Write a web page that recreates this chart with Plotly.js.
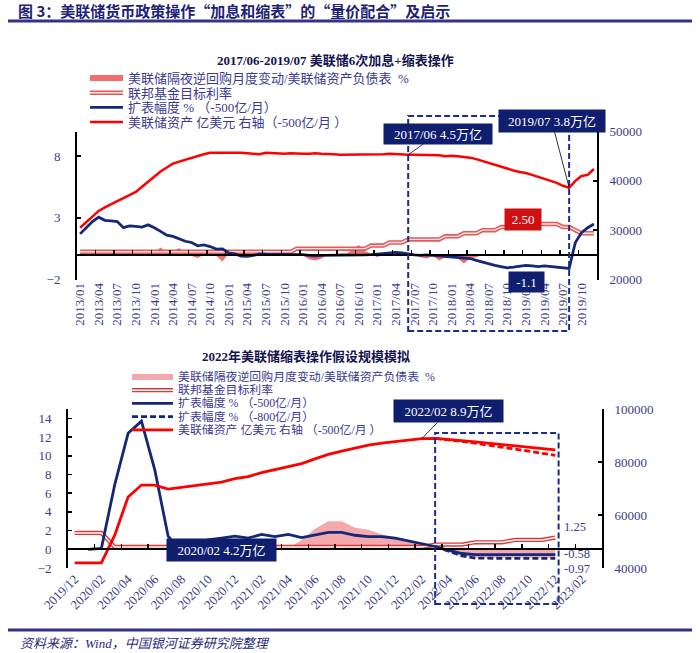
<!DOCTYPE html>
<html><head><meta charset="utf-8">
<script src="https://cdn.plot.ly/plotly-3.0.1.min.js"></script>
<style>html,body{margin:0;padding:0;background:#fff;}#chart{width:700px;height:653px;}</style>
</head><body><div id="chart"></div>
<script>
// ---------------- DATA ----------------
const topMonths = [
'2013/01','2013/02','2013/03','2013/04','2013/05','2013/06','2013/07','2013/08','2013/09','2013/10','2013/11','2013/12',
'2014/01','2014/02','2014/03','2014/04','2014/05','2014/06','2014/07','2014/08','2014/09','2014/10','2014/11','2014/12',
'2015/01','2015/02','2015/03','2015/04','2015/05','2015/06','2015/07','2015/08','2015/09','2015/10','2015/11','2015/12',
'2016/01','2016/02','2016/03','2016/04','2016/05','2016/06','2016/07','2016/08','2016/09','2016/10','2016/11','2016/12',
'2017/01','2017/02','2017/03','2017/04','2017/05','2017/06','2017/07','2017/08','2017/09','2017/10','2017/11','2017/12',
'2018/01','2018/02','2018/03','2018/04','2018/05','2018/06','2018/07','2018/08','2018/09','2018/10','2018/11','2018/12',
'2019/01','2019/02','2019/03','2019/04','2019/05','2019/06','2019/07','2019/08','2019/09','2019/10','2019/11','2019/12'];
const topTickLabels = ['2013/01','2013/04','2013/07','2013/10','2014/01','2014/04','2014/07','2014/10',
'2015/01','2015/04','2015/07','2015/10','2016/01','2016/04','2016/07','2016/10','2017/01','2017/04','2017/07','2017/10',
'2018/01','2018/04','2018/07','2018/10','2019/01','2019/04','2019/07','2019/10'];
// 美联储隔夜逆回购月度变动/美联储资产负债表 %
const topRRP = [
0,0,0,0,0,0,0,0,0,0.05,0,0,
0.2,0.6,0.2,0.3,0.55,0.1,-0.1,-0.25,0,0.05,-0.1,-0.55,
0.1,0,0,0.05,0,0,-0.1,0,0,0.05,0,0,
-0.05,-0.35,-0.45,-0.3,0,0.05,0.1,0.1,0.4,0.8,0.3,0.1,
-0.2,0.05,0.05,0.1,0,0,0,-0.2,-0.3,-0.1,-0.45,-0.2,
-0.1,-0.3,-0.7,-0.3,-0.2,0,0,0,0,0,0,0,
0,0,0,0,0,0,0,0,0,0,0,0];
// 联邦基金目标利率 %
const topRate = [
0.25,0.25,0.25,0.25,0.25,0.25,0.25,0.25,0.25,0.25,0.25,0.25,
0.25,0.25,0.25,0.25,0.25,0.25,0.25,0.25,0.25,0.25,0.25,0.25,
0.25,0.25,0.25,0.25,0.25,0.25,0.25,0.25,0.25,0.25,0.25,0.5,
0.5,0.5,0.5,0.5,0.5,0.5,0.5,0.5,0.5,0.5,0.5,0.75,
0.75,0.75,1.0,1.0,1.0,1.25,1.25,1.25,1.25,1.25,1.25,1.5,
1.5,1.5,1.75,1.75,1.75,2.0,2.0,2.0,2.25,2.25,2.25,2.5,
2.5,2.5,2.5,2.5,2.5,2.5,2.25,2.25,2.0,1.75,1.75,1.75];
// 扩表幅度 %（-500亿/月）
const topExpand = [
1.7,2.2,2.7,3.05,2.8,2.75,2.7,2.2,2.35,2.3,2.25,2.43,
2.2,1.9,1.6,1.5,1.27,1.1,1.0,0.73,0.8,0.67,0.46,0.48,
0.15,0.08,-0.1,-0.13,-0.05,0.08,0.05,0.05,0,0.05,0.02,0,
0.02,-0.05,-0.1,-0.05,-0.05,-0.02,0,0,-0.02,0,0,0.02,
0.05,0.1,0.15,0.2,0.15,0.05,0,-0.05,0,-0.05,-0.1,-0.1,
-0.15,-0.2,-0.25,-0.3,-0.45,-0.6,-0.75,-0.85,-0.95,-1.05,-1.0,-0.9,
-0.85,-0.9,-0.95,-0.9,-0.95,-1.05,-1.1,-1.1,1.0,1.8,2.2,2.5];
// 美联储资产 亿美元（右轴）
const topAssets = [
30500,31700,32800,33900,34600,35300,35900,36500,37100,37750,38800,39900,
41000,41900,42700,43500,43900,44300,44700,45000,45400,45700,45700,45800,
45800,45700,45700,45600,45500,45400,45700,45600,45500,45500,45600,45500,
45500,45500,45600,45500,45500,45400,45300,45300,45300,45300,45300,45300,
45300,45400,45500,45400,45400,45300,45300,45300,45300,45200,45200,45000,
45100,45000,44900,44700,44400,44000,43700,43300,42900,42400,42100,41800,
41600,41200,40800,40400,40000,39600,39000,38600,40000,41000,41200,42400];
const topLegend = ['美联储隔夜逆回购月度变动/美联储资产负债表\u00a0\u00a0%', '联邦基金目标利率',
  '扩表幅度 % （-500亿/月）', '美联储资产 亿美元 右轴（-500亿/月 ）'];

const botMonths = ['2019/12',
'2020/01','2020/02','2020/03','2020/04','2020/05','2020/06','2020/07','2020/08','2020/09','2020/10','2020/11','2020/12',
'2021/01','2021/02','2021/03','2021/04','2021/05','2021/06','2021/07','2021/08','2021/09','2021/10','2021/11','2021/12',
'2022/01','2022/02','2022/03','2022/04','2022/05','2022/06','2022/07','2022/08','2022/09','2022/10','2022/11','2022/12',
'2023/01','2023/02','2023/03'];
const botTickLabels = ['2019/12','2020/02','2020/04','2020/06','2020/08','2020/10','2020/12','2021/02','2021/04',
'2021/06','2021/08','2021/10','2021/12','2022/02','2022/04','2022/06','2022/08','2022/10','2022/12','2023/02'];
const botRRP = [0,0,0,0,0,0,0,0,0,0,0,0,0,0,0,0,
0.1,1.0,2.2,3.0,3.0,2.3,2.1,1.6,1.3,0.9,0.5,0.1,-0.3,-0.7,-0.9,-0.9,-0.9,-0.9,-0.9,-0.9,-0.9];
const botRate = [1.75,1.75,1.75,0.25,0.25,0.25,0.25,0.25,0.25,0.25,0.25,0.25,0.25,0.25,0.25,0.25,0.25,0.25,
0.25,0.25,0.25,0.25,0.25,0.25,0.25,0.25,0.25,0.5,0.5,0.5,0.75,0.75,0.75,1.0,1.0,1.0,1.25];
const botExpand500 = [null,0,0.1,6.9,12.4,13.7,8.5,1.4,-0.3,0.0,1.0,1.2,1.4,1.2,1.6,1.35,1.6,1.25,1.5,1.8,1.8,
1.5,1.35,1.35,1.2,0.9,0.55,0.3,-0.1,-0.45,-0.58,-0.58,-0.58,-0.58,-0.58,-0.58,-0.58];
const botExpand800 = [null,null,null,null,null,null,null,null,null,null,null,null,null,null,null,null,null,null,
null,null,null,null,null,null,null,null,null,0.3,-0.2,-0.7,-0.95,-0.97,-0.97,-0.97,-0.97,-0.97,-0.97];
const botAssets500 = [41900,41900,41900,52400,66800,71300,71300,69800,70400,71000,71800,72400,73700,74500,
76000,77100,78100,79400,81200,82900,84100,85200,86400,87100,87700,88300,88800,88900,88600,88100,87600,87100,
86600,86100,85600,85100,84600];
const botAssets800 = [null,null,null,null,null,null,null,null,null,null,null,null,null,null,null,null,null,null,
null,null,null,null,null,null,null,null,null,88900,88400,87800,87100,86400,85600,84900,84100,83300,82500];
const botLegend = ['美联储隔夜逆回购月度变动/美联储资产负债表\u00a0\u00a0%', '联邦基金目标利率',
  '扩表幅度 % （-500亿/月）', '扩表幅度 % （-800亿/月）', '美联储资产 亿美元 右轴 （-500亿/月 ）'];

// ---------------- STYLE / GEOMETRY ----------------
const W = 700, H = 653;
const px = v => v / W;
const py = v => 1 - v / H;
const NAVY = '#142878', BOXNAVY = '#0F1E6E', RED = '#FF0000';
const TICKFONT = {family: 'Liberation Serif, Times New Roman, serif', size: 13, color: '#3C3C8C'};
const CJK = 'Liberation Serif, Noto Sans CJK SC, sans-serif';
const topIdx = topMonths.map((m, i) => i);
const botIdx = botMonths.slice(0, botRate.length).map((m, i) => i);

const topY = [py(279.5), py(131.5)];
const botY = [py(568), py(409)];
const topLeftRange = [-2, 10], botLeftRange = [-2, 15];
const zeroPos = (dom, r) => dom[0] + (0 - r[0]) / (r[1] - r[0]) * (dom[1] - dom[0]);

const traces = [
  {x: topIdx, y: topRRP, type: 'scatter', mode: 'none', fill: 'tozeroy', fillcolor: '#F26D6D', xaxis: 'x', yaxis: 'y'},
  {x: topIdx, y: topRate, type: 'scatter', mode: 'lines', line: {color: '#E25A5A', width: 4.5}, xaxis: 'x', yaxis: 'y'},
  {x: topIdx, y: topRate, type: 'scatter', mode: 'lines', line: {color: '#FCE3E3', width: 1.4}, xaxis: 'x', yaxis: 'y'},
  {x: topIdx, y: topExpand, type: 'scatter', mode: 'lines', line: {color: NAVY, width: 2.8}, xaxis: 'x', yaxis: 'y'},
  {x: topIdx, y: topAssets, type: 'scatter', mode: 'lines', line: {color: RED, width: 2.5}, xaxis: 'x', yaxis: 'y2'},
  {x: [], y: [], type: 'scatter', mode: 'lines', xaxis: 'x2', yaxis: 'y'},

  {x: botIdx, y: botRRP, type: 'scatter', mode: 'none', fill: 'tozeroy', fillcolor: '#F4A9AE', xaxis: 'x3', yaxis: 'y3'},
  {x: botIdx, y: botRate, type: 'scatter', mode: 'lines', line: {color: '#E03535', width: 4.2}, xaxis: 'x3', yaxis: 'y3'},
  {x: botIdx, y: botRate, type: 'scatter', mode: 'lines', line: {color: '#FFFFFF', width: 1.5}, xaxis: 'x3', yaxis: 'y3'},
  {x: botIdx, y: botExpand500, type: 'scatter', mode: 'lines', line: {color: NAVY, width: 2.8}, xaxis: 'x3', yaxis: 'y3'},
  {x: botIdx, y: botExpand800, type: 'scatter', mode: 'lines', line: {color: NAVY, width: 2.8, dash: '6px,3px'}, xaxis: 'x3', yaxis: 'y3'},
  {x: botIdx, y: botAssets500, type: 'scatter', mode: 'lines', line: {color: RED, width: 2.8}, xaxis: 'x3', yaxis: 'y4'},
  {x: botIdx, y: botAssets800, type: 'scatter', mode: 'lines', line: {color: RED, width: 2.8, dash: '6px,3px'}, xaxis: 'x3', yaxis: 'y4'},
  {x: [], y: [], type: 'scatter', mode: 'lines', xaxis: 'x4', yaxis: 'y3'}
];

const yBase = {ticks: 'inside', ticklen: 4, tickwidth: 1.5, tickcolor: '#000', showline: true, linecolor: '#000',
  linewidth: 2, showgrid: false, zeroline: false, tickfont: TICKFONT, fixedrange: true};
const zeroAxis = {type: 'linear', anchor: 'free', showline: true, linecolor: '#000', linewidth: 2, ticks: 'inside',
  ticklen: 4, tickwidth: 1.5, tickcolor: '#000', showticklabels: false, showgrid: false, zeroline: false, tick0: -0.5};

const shapes = [
  // title rule & footer rule
  {type: 'line', xref: 'paper', yref: 'paper', x0: px(8), x1: px(692), y0: py(21), y1: py(21), line: {color: '#333388', width: 3}},
  {type: 'line', xref: 'paper', yref: 'paper', x0: px(8), x1: px(692), y0: py(630), y1: py(630), line: {color: '#333388', width: 3}},
  // dashed highlight boxes
  {type: 'rect', xref: 'x', yref: 'paper', x0: topMonths.indexOf('2017/06'), x1: topMonths.indexOf('2019/08'),
   y0: py(331), y1: py(116), line: {color: '#1A2C8C', width: 2, dash: '6px,3px'}, layer: 'above'},
  {type: 'rect', xref: 'x3', yref: 'paper', x0: botMonths.indexOf('2022/03'), x1: botMonths.indexOf('2022/12') + 0.25,
   y0: py(604), y1: py(433), line: {color: '#1A2C8C', width: 2, dash: '6px,3px'}, layer: 'above'}
];

const annotations = [];
// manual legends: symbols as shapes, text as one multi-line block each
function legendBlock(x0, x1, rows, labels, symbols, fs) {
  rows.forEach((y, i) => symbols[i].forEach(l => shapes.push({type: 'line', xref: 'paper', yref: 'paper',
    x0: px(x0), x1: px(x1), y0: py(y), y1: py(y), line: l})));
  const gap = (rows[rows.length - 1] - rows[0]) / (rows.length - 1);
  annotations.push({xref: 'paper', yref: 'paper', x: px(x1 + 4), y: py((rows[0] + rows[rows.length - 1]) / 2),
    xanchor: 'left', yanchor: 'middle', align: 'left', showarrow: false, borderpad: 0,
    text: labels.map(t => '<span style="font-size:' + fs + 'px">' + t + '</span>').join('<br>'),
    font: {family: 'Liberation Serif, Noto Sans CJK SC, sans-serif', size: gap / 1.3, color: '#3A3A95'}});
}
legendBlock(90, 123, [78, 92.7, 107.4, 122.1], topLegend, [
  [{color: '#F26D6D', width: 6}],
  [{color: '#E25A5A', width: 4.5}, {color: '#FCE3E3', width: 1.4}],
  [{color: NAVY, width: 2.8}],
  [{color: RED, width: 2.5}]], 13);
legendBlock(132, 173, [377, 390.2, 403.4, 416.6, 429.8], botLegend, [
  [{color: '#F4A9AE', width: 6}],
  [{color: '#E03535', width: 4.2}, {color: '#FFFFFF', width: 1.5}],
  [{color: NAVY, width: 2.8}],
  [{color: NAVY, width: 2.8, dash: '6px,3px'}],
  [{color: RED, width: 2.8}]], 11.9);

// subtitles
annotations.push({xref: 'paper', yref: 'paper', x: px(335), y: py(60), xanchor: 'center', yanchor: 'middle', showarrow: false,
  text: '<b>2017/06-2019/07 美联储6次加息+缩表操作</b>', font: {family: CJK, size: 13, color: '#141450'}});
annotations.push({xref: 'paper', yref: 'paper', x: px(306), y: py(357), xanchor: 'center', yanchor: 'middle', showarrow: false,
  text: '<b>2022年美联储缩表操作假设规模模拟</b>', font: {family: CJK, size: 13, color: '#141450'}});
// footer
annotations.push({xref: 'paper', yref: 'paper', x: px(18), y: py(643), xanchor: 'left', yanchor: 'middle', showarrow: false,
  text: '资料来源：Wind，中国银河证券研究院整理', font: {family: 'Liberation Serif, Noto Sans CJK SC, sans-serif', size: 13, color: '#2A2A80', style: 'italic'}});

// value boxes
const boxFont = {family: CJK, size: 13, color: '#FFFFFF'};
const iA = topMonths.indexOf('2017/06'), iB = topMonths.indexOf('2019/08'), iC = botMonths.indexOf('2022/02');
annotations.push({xref: 'x', yref: 'y2', x: iA, y: topAssets[iA], text: '2017/06 4.5万亿', showarrow: true, arrowhead: 0,
  arrowwidth: 0.8, arrowcolor: '#000', ax: 30, ay: -21, bgcolor: BOXNAVY, font: boxFont, width: 106, height: 18, borderpad: 1});
annotations.push({xref: 'x', yref: 'y2', x: iB, y: topAssets[iB], text: '2019/07 3.8万亿', showarrow: true, arrowhead: 0,
  arrowwidth: 0.8, arrowcolor: '#000', ax: -17.5, ay: -67, bgcolor: BOXNAVY, font: boxFont, width: 104, height: 20, borderpad: 1});
annotations.push({xref: 'paper', yref: 'paper', x: px(542), y: py(208), text: '2.50', showarrow: false,
  bgcolor: '#D01010', font: boxFont, width: 34, height: 19, borderpad: 1});
annotations.push({xref: 'paper', yref: 'paper', x: px(544.5), y: py(282), text: '-1.1', showarrow: false,
  bgcolor: BOXNAVY, font: boxFont, width: 33, height: 18, borderpad: 1});
annotations.push({xref: 'x3', yref: 'y4', x: iC, y: botAssets500[iC], text: '2022/02 8.9万亿', showarrow: true, arrowhead: 0,
  arrowwidth: 0.8, arrowcolor: '#000', ax: 26.7, ay: -27.6, bgcolor: BOXNAVY, font: boxFont, width: 107, height: 20, borderpad: 1});
annotations.push({xref: 'paper', yref: 'paper', x: px(165.5), y: py(562), text: '2020/02 4.2万亿', showarrow: false,
  bgcolor: BOXNAVY, font: boxFont, width: 107, height: 20, borderpad: 1});
// end labels
const endFont = {family: 'Liberation Serif, serif', size: 12.5, color: '#3C3C8C'};
[['1.25', 527], ['-0.58', 553.5], ['-0.97', 568.5]].forEach(([t, y]) => annotations.push({xref: 'paper', yref: 'paper',
  x: px(563), y: py(y), xanchor: 'left', yanchor: 'middle', text: t, showarrow: false, borderpad: 0, font: endFont}));

const layout = {
  width: W, height: H, margin: {l: 0, r: 0, t: 0, b: 0}, paper_bgcolor: '#fff', plot_bgcolor: 'rgba(0,0,0,0)',
  showlegend: false,
  title: {text: '<b>图 3：美联储货币政策操作“加息和缩表”的“量价配合”及启示</b>', x: px(18), xanchor: 'left',
    y: py(12), yanchor: 'middle', font: {family: 'Noto Sans CJK SC, sans-serif', size: 15, color: '#1E2277'}},
  xaxis: {domain: [px(77), px(597)], anchor: 'y', range: [-0.5, topMonths.length - 0.5], type: 'linear',
    tickvals: topTickLabels.map(l => topMonths.indexOf(l)), ticktext: topTickLabels, tickangle: -90, ticks: '',
    showline: false, showgrid: false, zeroline: false, tickfont: TICKFONT, fixedrange: true},
  xaxis2: Object.assign({}, zeroAxis, {overlaying: 'x', position: zeroPos(topY, topLeftRange),
    range: [-0.5, topMonths.length - 0.5], dtick: 3}),
  yaxis: Object.assign({}, yBase, {domain: topY, anchor: 'x', range: topLeftRange, tick0: -2, dtick: 5, ticklabelstandoff: 12}),
  yaxis2: Object.assign({}, yBase, {overlaying: 'y', side: 'right', anchor: 'x', range: [20000, 50000], dtick: 10000,
    tickformat: 'd', ticklabelstandoff: 8}),
  xaxis3: {domain: [px(68), px(602)], anchor: 'y3', range: [-0.5, botMonths.length - 0.5], type: 'linear',
    tickvals: botTickLabels.map(l => botMonths.indexOf(l)), ticktext: botTickLabels, tickangle: -45, ticks: '',
    showline: false, showgrid: false, zeroline: false, tickfont: TICKFONT, fixedrange: true},
  xaxis4: Object.assign({}, zeroAxis, {overlaying: 'x3', position: zeroPos(botY, botLeftRange),
    range: [-0.5, botMonths.length - 0.5], dtick: 2}),
  yaxis3: Object.assign({}, yBase, {domain: botY, anchor: 'x3', range: botLeftRange, tick0: -2, dtick: 2, ticklabelstandoff: 12}),
  yaxis4: Object.assign({}, yBase, {overlaying: 'y3', side: 'right', anchor: 'x3', range: [40000, 100000], dtick: 20000,
    tickformat: 'd', ticklabelstandoff: 8}),
  shapes: shapes,
  annotations: annotations
};

Plotly.newPlot('chart', traces, layout, {staticPlot: true, displayModeBar: false});
</script></body></html>
